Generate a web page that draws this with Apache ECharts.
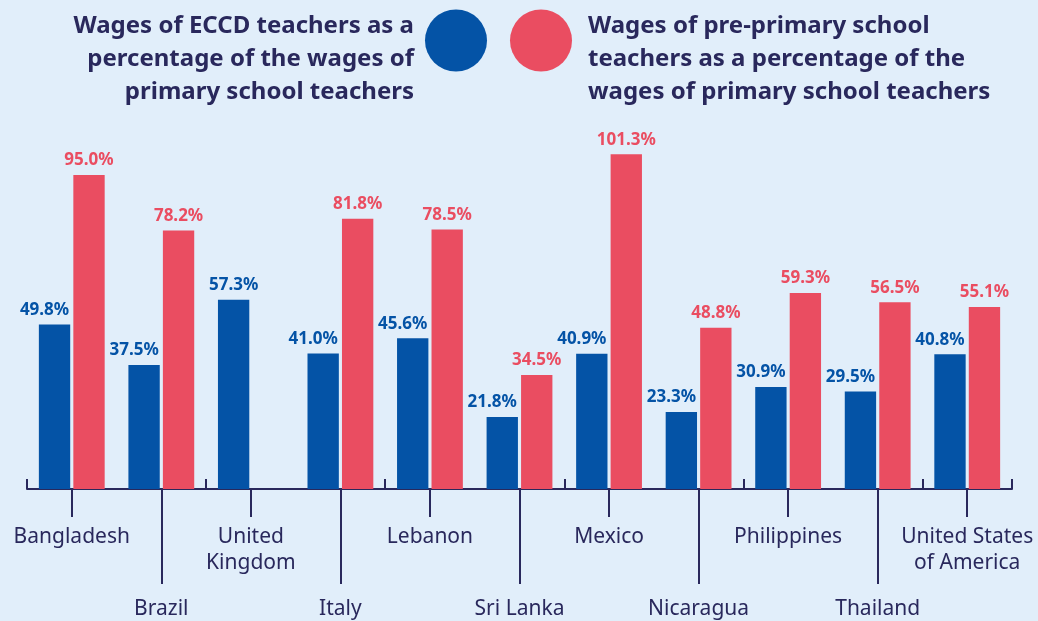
<!DOCTYPE html>
<html>
<head>
<meta charset="utf-8">
<script src="https://cdn.jsdelivr.net/npm/echarts@6/dist/echarts.min.js"></script>
<style>
html,body{margin:0;padding:0;background:#e1eefa;}
#chart{width:1038px;height:621px;}
</style>
</head>
<body>
<div id="chart"></div>
<script>
var countries = ['Bangladesh','Brazil','United\nKingdom','Italy','Lebanon','Sri Lanka','Mexico','Nicaragua','Philippines','Thailand','United States\nof America'];
var eccdVals = [49.8,37.5,57.3,41.0,45.6,21.8,40.9,23.3,30.9,29.5,40.8];
var preVals = [95.0,78.2,null,81.8,78.5,34.5,101.3,48.8,59.3,56.5,55.1];

var blueName = 'Wages of ECCD teachers as a\npercentage of the wages of\nprimary school teachers';
var redName = 'Wages of pre-primary school\nteachers as a percentage of the\nwages of primary school teachers';

var navy = '#29285c';
var blue = '#0453a6';
var red = '#ea4d61';

var chart = echarts.init(document.getElementById('chart'));

// blue labels move left when a red bar stands next to them
var blueData = eccdVals.map(function (v, i) {
    return {value: v, label: {offset: preVals[i] == null ? [0, 0] : [-10, 0]}};
});

// legend text sits lower than the circle: empty first line pushes it down
var legendText = function (name) {
    return '{s| }\n' + name.split('\n').map(function (l) { return '{t|' + l + '}'; }).join('\n');
};

var legendStyle = function (pad, align) {
    return {
        color: navy,
        fontFamily: 'Noto Sans',
        fontWeight: 'bold',
        fontSize: 24,
        rich: {
            s: {fontSize: 10, lineHeight: 38},
            t: {
                color: navy,
                fontFamily: 'Noto Sans',
                fontWeight: 'bold',
                fontSize: 24,
                lineHeight: 33,
                align: align,
                padding: pad
            }
        }
    };
};

var bottomAxis = function (even, tickLen, margin) {
    return {
        type: 'category',
        position: 'bottom',
        data: countries,
        axisLine: {show: false},
        axisTick: {
            show: true,
            alignWithLabel: true,
            length: tickLen,
            interval: function (i) { return (i % 2 === 0) === even; },
            lineStyle: {color: navy, width: 2}
        },
        axisLabel: {
            interval: function (i) { return (i % 2 === 0) === even; },
            margin: margin,
            color: navy,
            fontFamily: 'Noto Sans',
            fontSize: 21,
            lineHeight: 26
        },
        splitLine: {show: false}
    };
};

var barLabel = function (color) {
    return {
        show: true,
        position: 'top',
        distance: 6,
        color: color,
        fontFamily: 'Noto Sans',
        fontWeight: 'bold',
        fontSize: 17,
        formatter: function (p) { return p.value.toFixed(1) + '%'; }
    };
};

option = {
    backgroundColor: '#e1eefa',
    animation: false,
    legend: [
        {
            data: [blueName],
            right: 551,
            top: -14,
            padding: 0,
            align: 'right',
            icon: 'circle',
            itemWidth: 62,
            itemHeight: 62,
            formatter: legendText,
            textStyle: legendStyle([0, 6, 0, 0], 'right')
        },
        {
            data: [redName],
            left: 510,
            top: -14,
            padding: 0,
            align: 'left',
            icon: 'circle',
            itemWidth: 62,
            itemHeight: 62,
            formatter: legendText,
            textStyle: legendStyle([0, 0, 0, 11], 'left')
        }
    ],
    grid: {
        left: 27,
        right: 26,
        top: 125.5,
        bottom: 132,
        containLabel: false,
        outerBoundsMode: 'none'
    },
    xAxis: [
        {
            type: 'category',
            position: 'bottom',
            data: countries,
            axisLine: {lineStyle: {color: navy, width: 2}},
            axisTick: {show: true, inside: true, length: 10, lineStyle: {color: navy, width: 2}},
            axisLabel: {show: false},
            splitLine: {show: false}
        },
        bottomAxis(true, 28, 35),
        bottomAxis(false, 95, 107)
    ],
    yAxis: {
        type: 'value',
        min: 0,
        max: 110,
        show: false,
        splitLine: {show: false}
    },
    series: [
        {
            name: blueName,
            type: 'bar',
            xAxisIndex: 0,
            barWidth: '35%',
            barGap: '10%',
            itemStyle: {color: blue},
            label: barLabel(blue),
            data: blueData
        },
        {
            name: redName,
            type: 'bar',
            xAxisIndex: 0,
            barWidth: '35%',
            barGap: '10%',
            itemStyle: {color: red},
            label: barLabel(red),
            data: preVals
        }
    ]
};
chart.setOption(option);
</script>
</body>
</html>
